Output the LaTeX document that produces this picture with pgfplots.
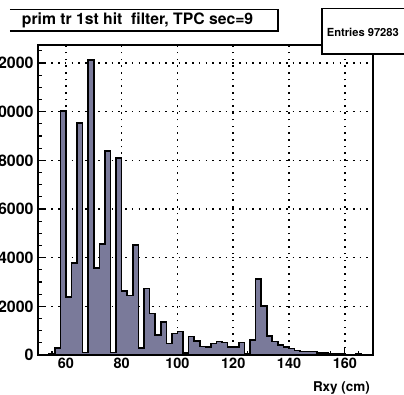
\documentclass[border=0pt]{standalone}
\usepackage{pgfplots}
\pgfplotsset{compat=1.18}
\usepackage{fontspec}
\setmainfont{TeX Gyre Heros}

\definecolor{histfill}{RGB}{122,122,154}

% grid under the histogram, ticks and frame over it (ROOT look)
\pgfplotsset{
  layers/rootlike/.define layer set={
    axis background,axis grid,pre main,main,axis ticks,axis lines,axis tick labels,axis descriptions,axis foreground
  }{},
}

\begin{document}
\begin{tikzpicture}
\begin{axis}[
    set layers=rootlike,
    scale only axis,
    width=334.7bp, height=310bp,
    xmin=50, xmax=170,
    ymin=0, ymax=12740,
    xtick={60,80,...,160},
    ytick={0,2000,...,12000},
    minor xtick={50,55,...,170},
    minor ytick={0,500,...,12500},
    tick pos=left,
    tick align=inside,
    major tick length=8bp,
    minor tick length=4bp,
    every tick/.style={black, line width=1.2bp},
    axis line style={line width=1.6bp},
    grid=major,
    major grid style={black, line width=1.6bp, dash pattern=on 1.6bp off 5.1bp},
    scaled y ticks=false,
    /pgf/number format/assume math mode=true,
    /pgf/number format/1000 sep={},
    xticklabel style={font=\fontsize{14.5}{14.5}\selectfont\bfseries},
    yticklabel style={font=\fontsize{16}{16}\selectfont\bfseries, xshift=-1bp},
    xlabel={Rxy (cm)},
    xlabel style={font=\fontsize{13.5}{13.5}\selectfont\bfseries,
        at={(axis description cs:1,0)}, anchor=east, inner sep=0pt,
        xshift=-2.7bp, yshift=-33.5bp},
]
\addplot[const plot, fill=histfill, draw=black, line width=1.6bp] coordinates {
  (50,0) (52,0) (54,60) (56,300) (58,10020)
  (60,2380) (62,3780) (64,9530) (66,100) (68,12120)
  (70,3580) (72,4550) (74,8390) (76,100) (78,8090)
  (80,2630) (82,2440) (84,4525) (86,300) (88,2740)
  (90,1700) (92,820) (94,1360) (96,480) (98,890)
  (100,960) (102,70) (104,760) (106,570) (108,345)
  (110,320) (112,480) (114,550) (116,510) (118,330)
  (120,320) (122,520) (124,60) (126,620) (128,3130)
  (130,2020) (132,770) (134,550) (136,420) (138,330)
  (140,275) (142,190) (144,140) (146,140) (148,140)
  (150,80) (152,80) (154,50) (156,40) (158,40)
  (160,20) (162,10) (164,30) (166,10) (168,0)
  (170,0)
} \closedcycle;
\end{axis}

% title pave
\draw[line width=1bp] (-28bp,345.7bp) -- (240bp,345.7bp);
\draw[line width=1.8bp] (-28bp,324.3bp) -- (240bp,324.3bp) -- (240bp,345.7bp);
\node[anchor=west, inner sep=0pt, font=\fontsize{15.8}{15.8}\selectfont\bfseries]
  at (-16.3bp,335bp) {prim tr 1st hit~~filter, TPC sec=9};

% stats box
\filldraw[fill=white, draw=black, line width=1bp] (283.7bp,301bp) rectangle (380bp,346bp);
\draw[line width=1.8bp] (283.7bp,346bp) -- (283.7bp,301bp) -- (380bp,301bp);
\node[anchor=west, inner sep=0pt, font=\fontsize{11.2}{11.2}\selectfont\bfseries]
  at (288.7bp,322.7bp) {Entries 97283};

\pgfresetboundingbox
\path[use as bounding box] (-38bp,-40bp) rectangle (366bp,355bp);
\end{tikzpicture}
\end{document}
